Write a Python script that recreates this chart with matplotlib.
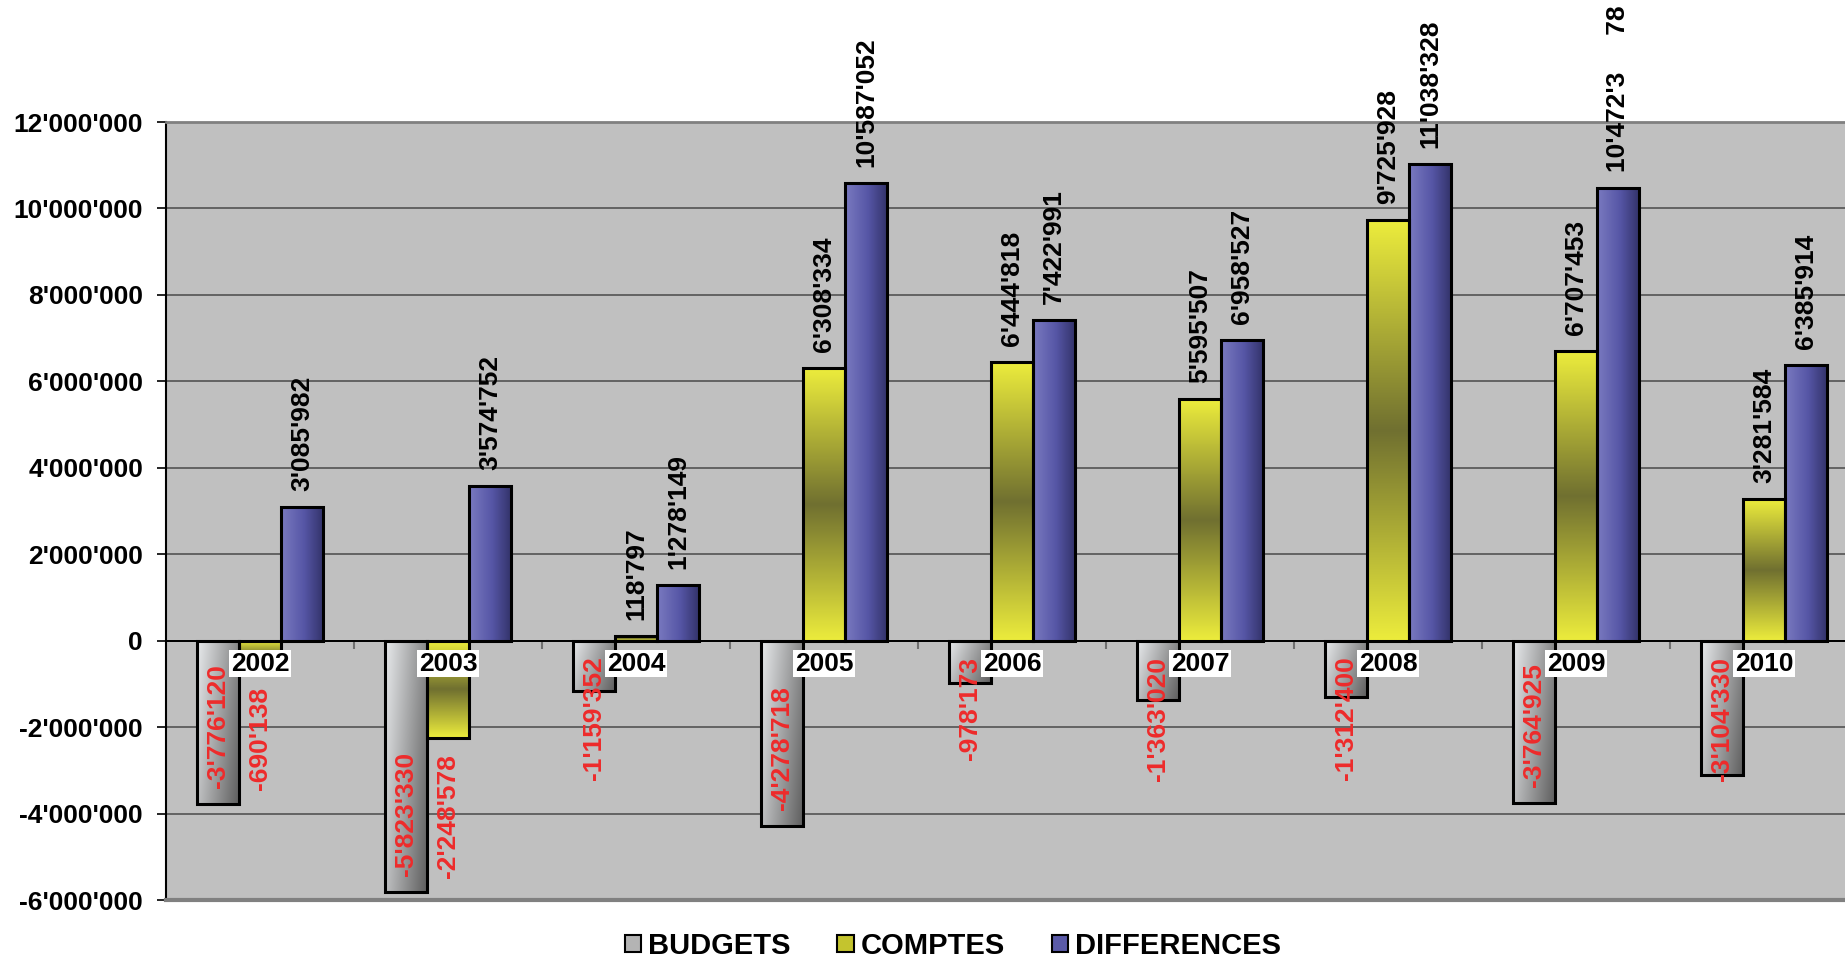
import matplotlib
matplotlib.use('Agg')
import matplotlib.pyplot as plt
import matplotlib.font_manager as fm
from matplotlib.patches import Patch
from matplotlib.ticker import FuncFormatter, FixedLocator
import numpy as np

years = ['2002', '2003', '2004', '2005', '2006', '2007', '2008', '2009', '2010']
budgets = [-3776120, -5823330, -1159352, -4278718, -978173, -1363020, -1312400, -3764925, -3104330]
comptes = [-690138, -2248578, 118797, 6308334, 6444818, 5595507, 9725928, 6707453, 3281584]
differences = [3085982, 3574752, 1278149, 10587052, 7422991, 6958527, 11038328, 10472378, 6385914]
series_names = ['BUDGETS', 'COMPTES', 'DIFFERENCES']
# label text as it shows in the original (one label is broken there)
label_overrides = {('DIFFERENCES', 7): "10'472'3     78"}

installed = {f.name for f in fm.fontManager.ttflist}
main_font = 'Liberation Sans' if 'Liberation Sans' in installed else 'DejaVu Sans'
plt.rcParams['font.family'] = [main_font, 'DejaVu Sans']
plt.rcParams['font.weight'] = 'bold'


def fmt(v, pos=None):
    return f'{int(v):,}'.replace(',', "'")


def budget_grad(n=64):
    u = np.linspace(0, 1, n)[None, :]
    v = np.linspace(0, 1, n)[:, None]
    t = np.clip(0.7 * u + 0.3 * v, 0, 1)
    light = np.array([232, 234, 236]) / 255
    dark = np.array([95, 95, 95]) / 255
    return light + (dark - light) * t[..., None]


def comptes_grad(n=128):
    t = np.linspace(0, 1, n)
    w = 1 - np.abs(2 * t - 1)
    yellow = np.array([236, 236, 60]) / 255
    olive = np.array([112, 112, 48]) / 255
    col = yellow + (olive - yellow) * w[:, None]
    return np.repeat(col[:, None, :], 4, axis=1)


def diff_grad(n=64):
    u = np.linspace(0, 1, n)
    stops = [0, 0.55, 1]
    cols = np.array([[122, 122, 192], [86, 86, 166], [52, 52, 108]]) / 255
    col = np.stack([np.interp(u, stops, cols[:, k]) for k in range(3)], axis=-1)
    return np.repeat(col[None, :, :], 4, axis=0)


fig = plt.figure(figsize=(18.45, 9.6), dpi=100)
ax = fig.add_axes([166 / 1845, 60 / 960, 1 - 166 / 1845, 778 / 960])
ax.set_facecolor('#c0c0c0')

x = np.arange(len(years))
width = 0.223
grads = [budget_grad(), comptes_grad(), diff_grad()]
all_series = [budgets, comptes, differences]

bar_groups = []
for k, (vals, g) in enumerate(zip(all_series, grads)):
    bars = ax.bar(x + (k - 1) * width, vals, width, facecolor='none',
                  edgecolor='black', linewidth=2.2, zorder=4)
    for b in bars:
        y0, y1 = sorted([b.get_y(), b.get_y() + b.get_height()])
        im = ax.imshow(g, extent=[b.get_x(), b.get_x() + b.get_width(), y0, y1],
                       aspect='auto', interpolation='bilinear', zorder=3)
        im.set_clip_path(b)
    bar_groups.append(bars)

ax.set_xlim(-0.5, -0.5 + 1679 / 188)
ax.set_ylim(-6e6, 12e6)

# grid and axes
ax.set_yticks(np.arange(-6e6, 12e6 + 1, 2e6))
ax.yaxis.set_major_formatter(FuncFormatter(fmt))
ax.yaxis.grid(True, color='#4a4a4a', linewidth=1.1, zorder=1)
ax.set_axisbelow(True)
ax.tick_params(axis='y', direction='out', length=6.5, width=1.2, pad=10, labelsize=19)
for t in ax.get_yticklabels():
    t.set_fontweight('bold')

ax.spines['bottom'].set_position(('data', 0))
ax.spines['bottom'].set_linewidth(1.4)
ax.spines['bottom'].set_zorder(5)
ax.spines['left'].set_linewidth(1.5)
ax.spines['top'].set_color('#808080')
ax.spines['top'].set_linewidth(2)
ax.spines['right'].set_visible(False)
ax.axhline(-6e6, color='#808080', linewidth=3, zorder=5, clip_on=False)
ax.xaxis.set_major_locator(FixedLocator(x[:-1] + 0.5))
ax.tick_params(axis='x', direction='out', length=6, width=1.5, color='#707070',
               labelbottom=False)

# year labels just below zero
for i, yr in enumerate(years):
    ax.annotate(yr, (x[i], 0), xytext=(0, -16.5), textcoords='offset points',
                ha='center', va='center', fontsize=19, fontweight='bold', zorder=6,
                bbox=dict(boxstyle='square,pad=0.05', fc='white', ec='none'))

# value labels
red = '#ee2b2b'
budget_texts = []
for k, (name, bars, vals) in enumerate(zip(series_names, bar_groups, all_series)):
    for i, (b, v) in enumerate(zip(bars, vals)):
        txt = label_overrides.get((name, i), fmt(v))
        cx = b.get_x() + b.get_width() / 2
        if v >= 0:
            ax.annotate(txt, (cx, v), xytext=(0, 11.5), textcoords='offset points',
                        rotation=90, ha='center', va='bottom', fontsize=19,
                        fontweight='bold', color='black', zorder=6, annotation_clip=False)
        elif name == 'BUDGETS':
            t = ax.annotate(txt, (cx, v), xytext=(0, 11.5), textcoords='offset points',
                            rotation=90, ha='center', va='bottom', fontsize=19,
                            fontweight='bold', color=red, zorder=6)
            budget_texts.append((t, cx))
        else:
            ax.annotate(txt, (cx, v), xytext=(0, -12), textcoords='offset points',
                        rotation=90, ha='center', va='top', fontsize=19,
                        fontweight='bold', color=red, zorder=6)

# budget labels that would climb above the zero line are pushed down to start below it
fig.canvas.draw()
renderer = fig.canvas.get_renderer()
zero_px = ax.transData.transform((0, 0))[1]
for t, cx in budget_texts:
    bb = t.get_window_extent(renderer)
    if bb.y1 > zero_px - 16:
        t.xy = (cx, 0)
        t.set_position((0, -11.5))
        t.set_va('top')

handles = [Patch(facecolor='#b4b4b4', edgecolor='black', linewidth=1.5),
           Patch(facecolor='#c4c42e', edgecolor='black', linewidth=1.5),
           Patch(facecolor='#5a5aa8', edgecolor='black', linewidth=1.5)]
leg = fig.legend(handles, series_names, loc='center', ncol=3,
                 bbox_to_anchor=(953 / 1845, 1 - 946 / 960), frameon=False,
                 prop={'family': main_font, 'weight': 'bold', 'size': 21},
                 handlelength=0.55, handleheight=0.55, handletextpad=0.25,
                 columnspacing=1.6)

fig.savefig('out.png', dpi=100, facecolor='white')
